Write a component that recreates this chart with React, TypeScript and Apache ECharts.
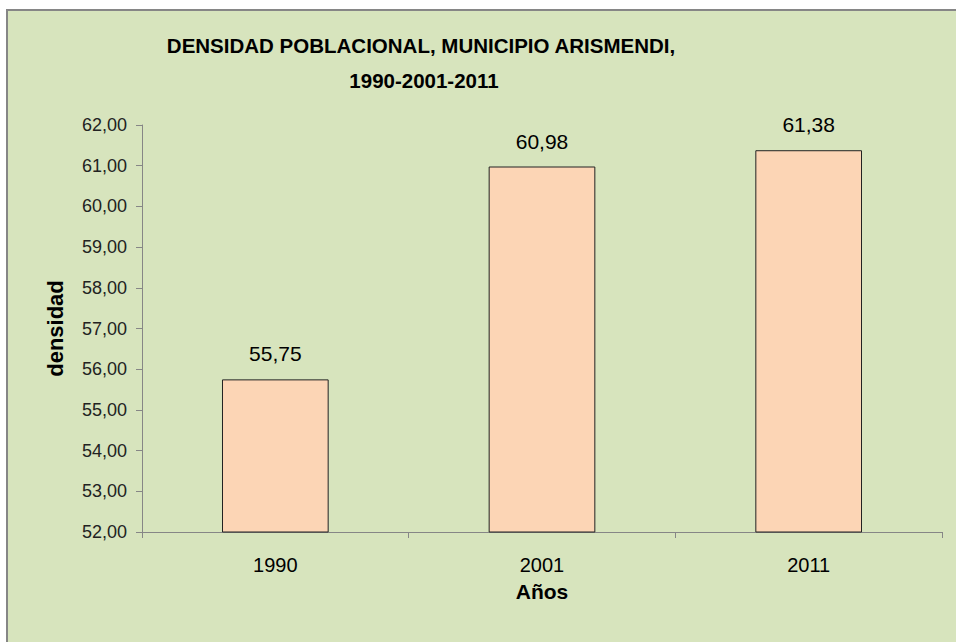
import React, { useEffect, useRef } from "react";
import * as echarts from "echarts";

const categories = ["1990", "2001", "2011"];
const densidad = [55.75, 60.98, 61.38];
const titleLine1 = "DENSIDAD POBLACIONAL, MUNICIPIO ARISMENDI,";
const titleLine2 = "1990-2001-2011";
const yName = "densidad";
const xName = "Años";

const fmt = (v: number) => v.toFixed(2).replace(".", ",");

export default function App() {
  const ref = useRef<HTMLDivElement>(null);
  useEffect(() => {
    if (!ref.current) return;
    const chart = echarts.init(ref.current, null, { renderer: "svg" });
    const sans = "'Liberation Sans', Arial, sans-serif";
    chart.setOption({
      animation: false,
      backgroundColor: "#ffffff",
      graphic: [
        {
          type: "rect",
          z: -10,
          silent: true,
          shape: { x: 7, y: 10, width: 980, height: 660 },
          style: { fill: "#d7e4bd", stroke: "#868686", lineWidth: 2 },
        },
        {
          type: "text",
          x: 421,
          y: 45,
          silent: true,
          style: {
            text: titleLine1,
            font: "bold 20.5px 'Liberation Sans', Arial, sans-serif",
            fill: "#000",
            align: "center",
            verticalAlign: "middle",
          },
        },
        {
          type: "text",
          x: 424,
          y: 80,
          silent: true,
          style: {
            text: titleLine2,
            font: "bold 20.5px 'Liberation Sans', Arial, sans-serif",
            fill: "#000",
            align: "center",
            verticalAlign: "middle",
          },
        },
      ],
      grid: { left: 142, right: 14, top: 125, bottom: 110 },
      xAxis: {
        type: "category",
        data: categories,
        name: xName,
        nameLocation: "middle",
        nameGap: 49,
        nameTextStyle: { fontFamily: sans, fontWeight: "bold", fontSize: 21, color: "#000" },
        axisLine: { lineStyle: { color: "#868686", width: 1 } },
        axisTick: { show: true, alignWithLabel: false, length: 6, lineStyle: { color: "#868686" } },
        axisLabel: { fontFamily: sans, fontSize: 20, color: "#000", margin: 23 },
      },
      yAxis: {
        type: "value",
        min: 52,
        max: 62,
        interval: 1,
        name: yName,
        nameLocation: "middle",
        nameGap: 76,
        nameRotate: 90,
        nameTextStyle: { fontFamily: sans, fontWeight: "bold", fontSize: 22, color: "#000" },
        axisLine: { show: true, lineStyle: { color: "#868686", width: 1 } },
        axisTick: { show: true, length: 6, lineStyle: { color: "#868686" } },
        splitLine: { show: false },
        axisLabel: {
          fontFamily: sans,
          fontSize: 18,
          color: "#222",
          margin: 15,
          formatter: (v: number) => fmt(v),
        },
      },
      series: [
        {
          type: "bar",
          data: densidad,
          barWidth: "40%",
          itemStyle: { color: "#fcd5b5", borderColor: "#222", borderWidth: 1 },
          label: {
            show: true,
            position: "top",
            distance: 15,
            fontFamily: sans,
            fontSize: 21,
            color: "#000",
            formatter: (p: any) => fmt(p.value),
          },
        },
      ],
    });
    return () => chart.dispose();
  }, []);
  return (
    <div
      ref={ref}
      style={{ position: "fixed", left: 0, top: 0, width: 956, height: 642 }}
    />
  );
}
